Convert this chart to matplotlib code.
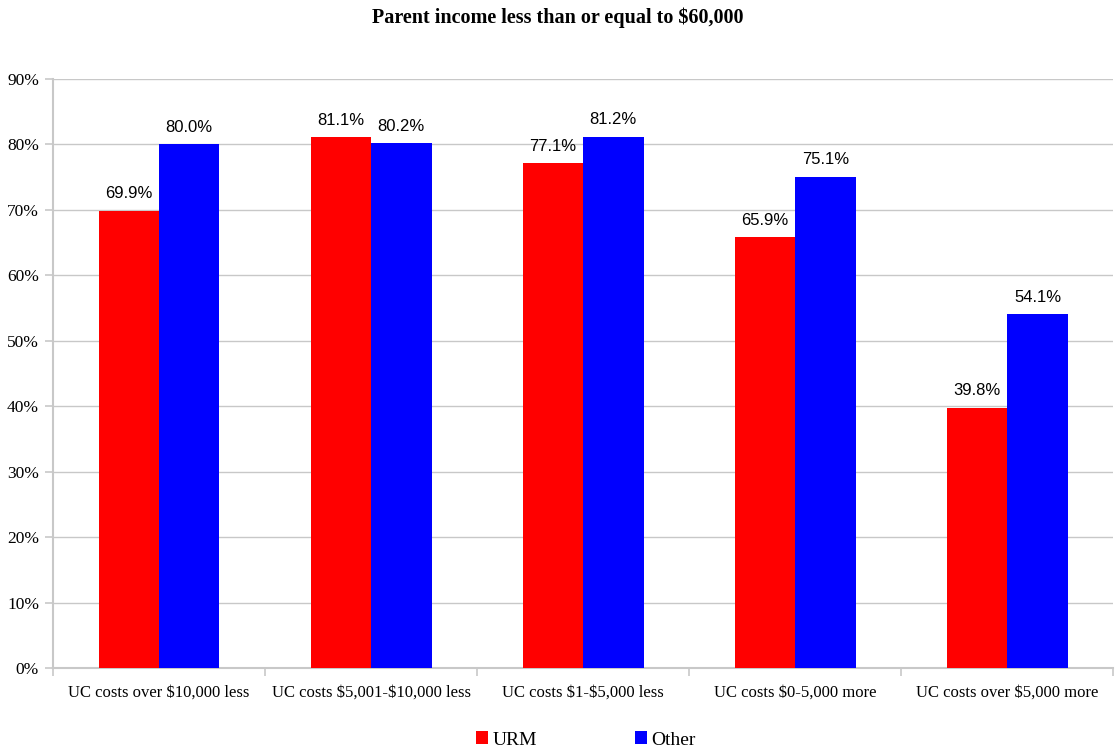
import numpy as np
import matplotlib.pyplot as plt
from matplotlib.ticker import FuncFormatter, FixedLocator

plt.rcParams["text.parse_math"] = False

categories = ["UC costs over $10,000 less", "UC costs $5,001-$10,000 less",
              "UC costs $1-$5,000 less", "UC costs $0-5,000 more",
              "UC costs over $5,000 more"]
urm = [69.9, 81.1, 77.1, 65.9, 39.8]
other = [80.0, 80.2, 81.2, 75.1, 54.1]

serif = "Liberation Serif"
sans = "Liberation Sans"
grid_col = "#c8c8c8"

fig = plt.figure(figsize=(11.15, 7.51), dpi=100)
ax = fig.add_axes([0.0475, 0.1105, 0.951, 0.7843])

x = np.arange(len(categories))
w = 0.285
b1 = ax.bar(x - w / 2, urm, w, color="#ff0000", label="URM", zorder=3)
b2 = ax.bar(x + w / 2, other, w, color="#0000ff", label="Other", zorder=3)

for bars, vals in ((b1, urm), (b2, other)):
    for rect, v in zip(bars, vals):
        ax.text(rect.get_x() + rect.get_width() / 2, v + 1.4, f"{v:.1f}%",
                ha="center", va="bottom", fontsize=12, family=sans)

ax.set_xlim(-0.5, len(categories) - 0.5)
ax.set_ylim(0, 90)
ax.set_yticks(np.arange(0, 91, 10))
ax.yaxis.set_major_formatter(FuncFormatter(lambda v, p: f"{v:.0f}%"))
ax.yaxis.grid(True, color=grid_col, linewidth=1, zorder=0)

ax.set_xticks(x)
ax.set_xticklabels(categories)
ax.xaxis.set_minor_locator(FixedLocator(np.arange(-0.5, len(categories), 1)))
ax.tick_params(axis="x", which="major", length=0, pad=12)
ax.tick_params(axis="x", which="minor", length=6, color=grid_col, width=1.2)
ax.tick_params(axis="y", length=6, color=grid_col, width=1.2, pad=4)
for lab in ax.get_xticklabels():
    lab.set_family(serif)
    lab.set_fontsize(12)
for lab in ax.get_yticklabels():
    lab.set_family(serif)
    lab.set_fontsize(12.5)

for side in ("top", "right"):
    ax.spines[side].set_visible(False)
for side in ("left", "bottom"):
    ax.spines[side].set_color(grid_col)
    ax.spines[side].set_linewidth(1.5)

fig.suptitle("Parent income less than or equal to $60,000", y=0.99,
             fontsize=14.5, fontweight="bold", family=serif)

fig.legend(handles=[b1, b2], loc="lower center", bbox_to_anchor=(0.5256, -0.02),
           ncol=2, frameon=False, prop={"family": serif, "size": 14},
           handlelength=0.62, handleheight=0.62, handletextpad=0.25,
           columnspacing=5.0)

fig.savefig("out.png", dpi=100)
